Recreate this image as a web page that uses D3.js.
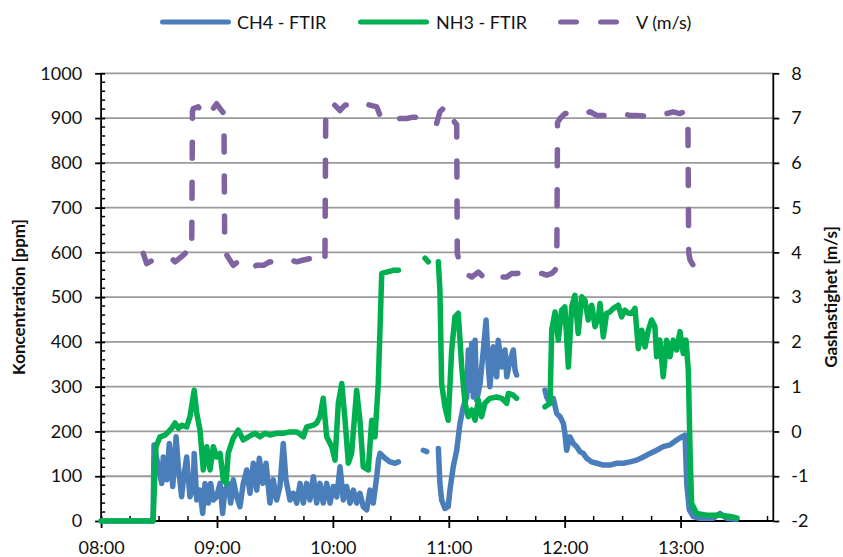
<!DOCTYPE html>
<html>
<head>
<meta charset="utf-8">
<script src="https://cdn.jsdelivr.net/npm/d3@7"></script>
<style>
  body { margin: 0; background: #fff; }
  text { font-family: Lato, "Open Sans", sans-serif; fill: #111; }
</style>
</head>
<body>
<svg id="chart" width="843" height="557"></svg>
<script>
// Measurement series: [minutes after 08:00, value]; null marks a gap in logging.
const ch4 = [
  [0,0],[26.9,0],[27.4,170],[29.6,121],[31.4,84],[32.2,143],[34.0,92],[35.3,173],[37.1,77],[38.8,188],
  [40.0,121],[41.7,54],[42.6,92],[44.3,143],[46.0,54],[47.7,77],[48.2,151],[49.5,47],[51.2,69],[52.6,17],
  [53.8,84],[55.5,40],[56.7,84],[58.1,47],[59.8,54],[61.6,84],[62.9,17],[64.1,69],[65.8,84],[67.1,40],
  [68.4,92],[70.2,54],[71.9,32],[73.6,84],[75.4,114],[77.1,62],[78.8,129],[80.6,69],[81.9,140],[83.7,84],
  [85.4,129],[87.4,40],[89.1,92],[90.9,47],[92.6,77],[94.3,173],[95.7,92],[97.8,47],[99.5,62],[101.3,40],
  [103.0,84],[104.7,40],[106.4,84],[108.1,47],[109.9,99],[111.6,40],[113.3,84],[115.0,40],[116.8,84],[118.5,40],
  [120.2,77],[122.0,54],[123.7,121],[125.4,47],[127.1,77],[128.9,40],[130.6,69],[132.3,40],[134.0,62],[135.7,32],
  [137.5,25],[139.2,69],[140.9,40],[142.7,99],[143.6,136],[144.4,151],[147.0,140],[149.6,132],[152.2,129],[153.9,132],
  null,
  [166.8,158],[168.6,155],
  null,
  [174.6,162],[175.4,84],[176.3,47],[178.0,28],[179.7,32],[180.6,69],[182.3,121],[184.1,158],[185.8,218],[187.5,255],
  [189.3,277],[190.1,382],[191.0,292],[191.9,397],[192.7,277],[193.6,404],[194.5,270],[196.2,307],[197.9,382],[199.3,449],
  [200.5,344],[201.3,300],[203.0,389],[204.8,322],[205.6,404],[207.4,344],[209.1,382],[210.0,322],[211.7,359],[213.4,382],
  [214.3,337],[215.1,326],
  null,
  [229.8,292],[230.7,277],[232.4,263],[234.1,274],[235.9,240],[237.6,233],[239.3,218],[240.1,196],[241.0,158],[242.7,188],
  [244.5,173],[246.2,166],[247.9,155],[249.6,151],[251.4,140],[254.0,132],[256.6,129],[260.0,125],[263.4,125],[266.9,129],
  [270.3,129],[273.8,132],[277.3,136],[280.7,143],[284.2,151],[287.6,158],[291.0,166],[294.5,170],[298.0,181],[300.6,188],
  [302.3,192],[303.2,84],[304.5,25],[306.6,10],[310.0,6],[316.9,6],[320.4,17],[323.8,6],[329.0,4]
];

const nh3 = [
  [0,0],[26.9,0],[28.4,166],[30.5,188],[33.1,192],[34.8,199],[36.5,207],[38.3,219],[40.0,207],[41.7,214],
  [44.3,210],[46.0,233],[48.2,292],[49.5,241],[51.2,203],[52.9,114],[54.7,166],[56.4,114],[58.1,166],[59.8,143],
  [61.6,151],[63.3,91],[64.7,85],[65.8,151],[68.4,185],[71.0,203],[73.6,181],[76.2,188],[79.7,196],[82.3,188],
  [84.9,196],[87.4,192],[90.9,196],[94.3,196],[97.8,199],[101.3,199],[104.7,188],[106.4,210],[109.9,214],[111.6,219],
  [113.3,233],[115.0,274],[116.8,188],[119.4,166],[121.1,136],[122.8,263],[124.6,307],[126.3,225],[128.0,129],[129.7,151],
  [132.3,292],[134.0,225],[135.7,121],[138.3,114],[140.1,225],[141.8,188],[143.5,308],[145.3,553],[147.8,556],[151.3,560],
  [153.9,560],
  null,
  [167.7,587],[169.4,579],
  null,
  [174.6,579],[175.4,516],[176.3,307],[178.0,255],[179.7,225],[181.5,382],[183.2,456],[184.9,464],[186.7,344],[188.4,263],
  [190.1,233],[191.9,248],[193.6,225],[195.3,270],[197.0,233],[198.7,263],[201.3,274],[204.8,277],[207.4,274],[210.0,263],
  [210.8,285],[213.4,281],[215.1,274],
  null,
  [229.8,255],[232.4,263],[233.3,426],[235.0,467],[236.7,404],[238.4,471],[240.1,478],[241.9,344],[243.6,478],[245.3,504],
  [247.0,419],[248.8,501],[250.5,493],[252.2,449],[254.0,482],[255.7,434],[257.4,456],[258.3,486],[260.0,411],[261.7,464],
  [263.4,467],[265.2,475],[267.7,482],[269.5,456],[271.2,471],[272.9,464],[274.7,464],[276.4,475],[278.1,385],[279.9,426],
  [281.6,389],[283.3,426],[285.0,449],[286.7,434],[287.6,367],[289.3,404],[291.0,322],[292.8,404],[294.5,367],[296.2,404],
  [298.0,382],[299.7,423],[301.4,374],[302.8,404],[304.0,337],[304.9,158],[305.7,40],[308.3,17],[313.5,13],[320.4,13],
  [325.6,10],[329.0,7]
];

const velocity = [
  [21.8,3.98],[23.6,3.75],[27.0,3.83],[30.5,3.83],[35.7,3.90],[38.3,3.79],[42.6,3.94],[44.3,4.01],[46.9,3.95],[47.3,7.15],
  [47.7,7.21],[50.3,7.25],[52.9,7.10],[54.7,7.25],[57.3,7.17],[59.8,7.32],[61.6,7.21],[63.6,7.10],[64.0,4.01],[68.4,3.71],
  [71.9,3.83],[77.1,3.64],[80.6,3.71],[84.0,3.71],[87.4,3.79],[91.7,3.75],[97.8,3.83],[101.3,3.79],[104.7,3.83],[108.1,3.86],
  [111.6,3.90],[113.3,3.98],[115.0,3.83],[115.9,3.90],[116.3,7.20],[116.8,7.29],[120.2,7.32],[123.7,7.17],[126.3,7.29],[129.7,7.29],
  [132.3,7.36],[135.7,7.32],[139.2,7.29],[142.7,7.25],[144.4,7.06],[147.8,7.10],[151.3,6.95],[154.7,6.99],[158.2,6.99],[161.6,7.02],
  [165.1,7.02],
  null,
  [173.7,6.88],[175.4,7.14],[178.0,7.25],[178.9,7.29],[182.3,6.95],[184.1,6.85],[184.4,3.98],[186.7,3.56],[188.4,3.53],[191.9,3.45],
  [195.3,3.56],[197.9,3.45],[203.0,3.53],[204.8,3.45],[210.0,3.45],[212.6,3.53],[215.1,3.53],[220.3,3.56],[222.9,3.53],[228.1,3.53],
  [230.7,3.49],[233.3,3.53],[235.0,3.60],[235.9,3.70],[236.3,6.90],[237.6,6.99],[240.1,7.10],[242.7,7.10],[246.2,7.10],[248.8,7.06],
  [253.1,7.14],[256.6,7.06],[261.7,7.06],[265.2,7.10],[269.5,7.10],[273.8,7.06],[277.3,7.06],[282.4,7.04],[285.9,7.10],[289.3,7.10],
  [292.8,7.10],[296.2,7.14],[299.7,7.10],[303.2,7.17],[303.8,7.00],[304.2,4.00],[304.9,3.83],[306.6,3.71],[310.0,3.60],[313.5,3.56]
];

const concTicks = [0, 100, 200, 300, 400, 500, 600, 700, 800, 900, 1000];
const speedTicks = [-2, -1, 0, 1, 2, 3, 4, 5, 6, 7, 8];
const timeTicks = ["08:00", "09:00", "10:00", "11:00", "12:00", "13:00"];
const timeEnd = "13:48";

const seriesNames = ["CH4 - FTIR", "NH3 - FTIR", "V (m/s)"];
const seriesColors = ["#4a7ebb", "#00b050", "#8064a2"];

const svg = d3.select("#chart");
const box = { left: 101.1, right: 773.3, top: 73.3, bottom: 521 };

const parseClock = s => { const [h, m] = s.split(":").map(Number); return new Date(2000, 0, 1, h, m); };
const t0 = parseClock(timeTicks[0]);
const toDate = min => new Date(t0.getTime() + min * 60000);

const x = d3.scaleTime().domain([t0, parseClock(timeEnd)]).range([box.left, box.right]);
const yL = d3.scaleLinear().domain([0, 1000]).range([box.bottom, box.top]);
const yR = d3.scaleLinear().domain([-2, 8]).range([box.bottom, box.top]);

// Horizontal gridlines
svg.append("g").selectAll("line").data(concTicks.filter(d => d > 0)).join("line")
  .attr("x1", box.left).attr("x2", box.right)
  .attr("y1", d => yL(d)).attr("y2", d => yL(d))
  .attr("stroke", "#9a9a9a").attr("stroke-width", 1.8);

// Left axis: major ticks crossing the line, minor ticks inside
const minorConc = d3.range(0, 1001, 20).filter(d => d % 100 !== 0);
const gL = svg.append("g").attr("transform", `translate(${box.left},0)`)
  .call(d3.axisLeft(yL).tickValues(concTicks).tickSize(6).tickPadding(13).tickFormat(d => String(d)));
gL.selectAll(".tick line").attr("x2", -6).attr("x1", 4);
gL.append("g").selectAll("line").data(minorConc).join("line")
  .attr("x1", 0).attr("x2", 4).attr("y1", d => yL(d)).attr("y2", d => yL(d))
  .attr("stroke", "#000").attr("stroke-width", 1.5);

// Right axis: outward ticks only
const gR = svg.append("g").attr("transform", `translate(${box.right},0)`)
  .call(d3.axisRight(yR).tickValues(speedTicks).tickSize(6).tickPadding(12).tickFormat(d => String(d)));

// Time axis: hourly major ticks crossing, quarter-hour minor ticks inside
const hourDates = timeTicks.map(parseClock);
const quarterDates = d3.range(15, 348, 15).filter(m => m % 60 !== 0).map(toDate);
const gB = svg.append("g").attr("transform", `translate(0,${box.bottom})`)
  .call(d3.axisBottom(x).tickValues(hourDates).tickSize(7).tickPadding(13).tickFormat(d3.timeFormat("%H:%M")));
gB.selectAll(".tick line").attr("y1", -5).attr("y2", 7);
gB.append("g").selectAll("line").data(quarterDates).join("line")
  .attr("x1", d => x(d)).attr("x2", d => x(d)).attr("y1", -5).attr("y2", 0)
  .attr("stroke", "#000").attr("stroke-width", 1.5);

[gL, gR, gB].forEach(g => {
  g.select(".domain").attr("stroke", "#000").attr("stroke-width", 1.8);
  g.selectAll(".tick line").attr("stroke", "#000").attr("stroke-width", 1.8);
  g.selectAll(".tick text").attr("font-size", 18).attr("font-family", "Lato, sans-serif").attr("fill", "#111");
});
gL.select(".domain").attr("d", `M0,${box.top}V${box.bottom}`);
gR.select(".domain").attr("d", `M0,${box.top}V${box.bottom}`);
gB.select(".domain").attr("d", `M${box.left},0H${box.right}`);
gR.selectAll(".tick text").attr("text-anchor", "start");

// Axis titles
svg.append("text").attr("transform", `translate(25,297) rotate(-90)`)
  .attr("text-anchor", "middle").attr("font-size", 17).attr("font-weight", "bold")
  .text("Koncentration [ppm]");
svg.append("text").attr("transform", `translate(837,297) rotate(-90)`)
  .attr("text-anchor", "middle").attr("font-size", 17).attr("font-weight", "bold")
  .text("Gashastighet [m/s]");

// Data lines
const lineConc = d3.line().defined(d => d !== null).x(d => x(toDate(d[0]))).y(d => yL(d[1]));
const lineSpeed = d3.line().defined(d => d !== null).x(d => x(toDate(d[0]))).y(d => yR(d[1]));

svg.append("path").datum(ch4).attr("d", lineConc)
  .attr("fill", "none").attr("stroke", seriesColors[0]).attr("stroke-width", 5.5)
  .attr("stroke-linejoin", "round").attr("stroke-linecap", "round");
svg.append("path").datum(nh3).attr("d", lineConc)
  .attr("fill", "none").attr("stroke", seriesColors[1]).attr("stroke-width", 5.5)
  .attr("stroke-linejoin", "round").attr("stroke-linecap", "round");
svg.append("path").datum(velocity).attr("d", lineSpeed)
  .attr("fill", "none").attr("stroke", seriesColors[2]).attr("stroke-width", 5.5)
  .attr("stroke-dasharray", "16,24")
  .attr("stroke-linejoin", "round").attr("stroke-linecap", "round");

// Legend
const legendY = 22;
const legendX = [[160, 231, 237], [358, 429, 436], [560.5, 619, 636]];
seriesNames.forEach((name, i) => {
  const [a, b, tx] = legendX[i];
  const ln = svg.append("line").attr("x1", a + 2.5).attr("x2", b - 2.5)
    .attr("y1", legendY).attr("y2", legendY)
    .attr("stroke", seriesColors[i]).attr("stroke-width", 5).attr("stroke-linecap", "round");
  if (i === 2) ln.attr("x1", a).attr("stroke-dasharray", "16,24");
  svg.append("text").attr("x", tx).attr("y", legendY + 6.5).attr("font-size", 18).text(name);
});
</script>
</body>
</html>
